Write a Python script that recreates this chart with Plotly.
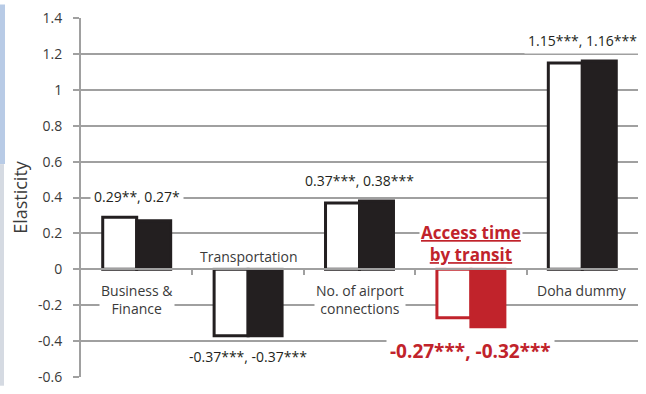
import plotly.graph_objects as go

# ---- data ----
categories = ["Business &<br>Finance", "Transportation", "No. of airport<br>connections",
              "Access time<br>by transit", "Doha dummy"]
model_a = [0.29, -0.37, 0.37, -0.27, 1.15]
model_b = [0.27, -0.37, 0.38, -0.32, 1.16]
value_labels = ["0.29**, 0.27*", "-0.37***, -0.37***", "0.37***, 0.38***",
                "-0.27***, -0.32***", "1.15***, 1.16***"]
highlight = [False, False, False, True, False]
y_ticks = [-0.6, -0.4, -0.2, 0, 0.2, 0.4, 0.6, 0.8, 1, 1.2, 1.4]
y_tick_text = ["-0.6", "-0.4", "-0.2", "0", "0.2", "0.4", "0.6", "0.8", "1", "1.2", "1.4"]

# ---- styles ----
DARK = "#231f20"
RED = "#c1232b"
GRID = "#a0a0a0"
TXT = "#3a3a3a"
FONT = "Open Sans"
ymin, ymax = y_ticks[0], y_ticks[-1]

xs = list(range(len(categories)))

fig = go.Figure()
fig.add_bar(
    x=xs, y=model_a, name="A",
    marker=dict(color=["white"] * len(xs),
                line=dict(color=[RED if h else DARK for h in highlight], width=3)),
)
fig.add_bar(
    x=xs, y=model_b, name="B",
    marker=dict(color=[RED if h else DARK for h in highlight],
                line=dict(color=[RED if h else DARK for h in highlight], width=3)),
)

annotations = []
for i, cat in enumerate(categories):
    lo = min(model_a[i], model_b[i])
    hi = max(model_a[i], model_b[i])
    positive = hi > 0
    h = highlight[i]
    # category label near zero line
    if h:
        txt = "<b><u>" + cat.replace("<br>", "</u></b><br><b><u>") + "</u></b>"
        cfont = dict(family=FONT, size=17, color=RED)
        cshift = 1
    else:
        txt = cat
        cfont = dict(family=FONT, size=14, color=TXT)
        cshift = -10 if positive else 1
    annotations.append(dict(
        x=i, y=0, xref="x", yref="y", text=txt, showarrow=False,
        yanchor="top" if positive else "bottom",
        yshift=cshift,
        font=cfont, bgcolor="white", borderpad=1,
    ))
    # value label
    vfont = dict(family=FONT, size=19, color=RED) if h else dict(family=FONT, size=14, color=DARK)
    vtxt = "<b>" + value_labels[i] + "</b>" if h else value_labels[i]
    annotations.append(dict(
        x=i, y=hi if positive else lo, xref="x", yref="y", text=vtxt, showarrow=False,
        yanchor="bottom" if positive else "top",
        yshift=7 if positive else -7,
        font=vfont, bgcolor="white", borderpad=3,
    ))

fig.update_layout(
    width=646, height=394,
    margin=dict(l=81, r=8, t=14, b=9),
    paper_bgcolor="white", plot_bgcolor="white",
    showlegend=False,
    barmode="group", bargap=0.39, bargroupgap=0,
    font=dict(family=FONT, color=TXT),
    annotations=annotations,
    shapes=[
        dict(type="rect", xref="paper", yref="paper", x0=-81 / 557, x1=-76 / 557,
             y0=220 / 371, y1=1 + 14 / 371, fillcolor="#b8cbe6", line_width=0, layer="below"),
        dict(type="rect", xref="paper", yref="paper", x0=-81 / 557, x1=-77 / 557,
             y0=-9 / 371, y1=220 / 371, fillcolor="#d5dae2", line_width=0, layer="below"),
    ],
)
fig.update_xaxes(
    range=[-0.5, len(xs) - 0.5],
    anchor="free", position=(0 - ymin) / (ymax - ymin),
    showline=True, linecolor=GRID, linewidth=1.8,
    tickvals=[i + 0.5 for i in xs[:-1]], ticks="outside", ticklen=5,
    tickcolor=GRID, tickwidth=1.5, showticklabels=False,
    showgrid=False, zeroline=False,
)
fig.update_yaxes(
    range=[ymin, ymax], tickvals=y_ticks, ticktext=y_tick_text,
    showgrid=True, gridcolor=GRID, gridwidth=1.8, zeroline=False,
    showline=True, linecolor=GRID, linewidth=1.8,
    ticks="outside", ticklen=6, tickcolor=GRID, tickwidth=1.5,
    ticklabelstandoff=8,
    tickfont=dict(family=FONT, size=14, color=TXT),
    title=dict(text="Elasticity", font=dict(family=FONT, size=18, color=TXT), standoff=6),
)

fig.write_html("out.html")
